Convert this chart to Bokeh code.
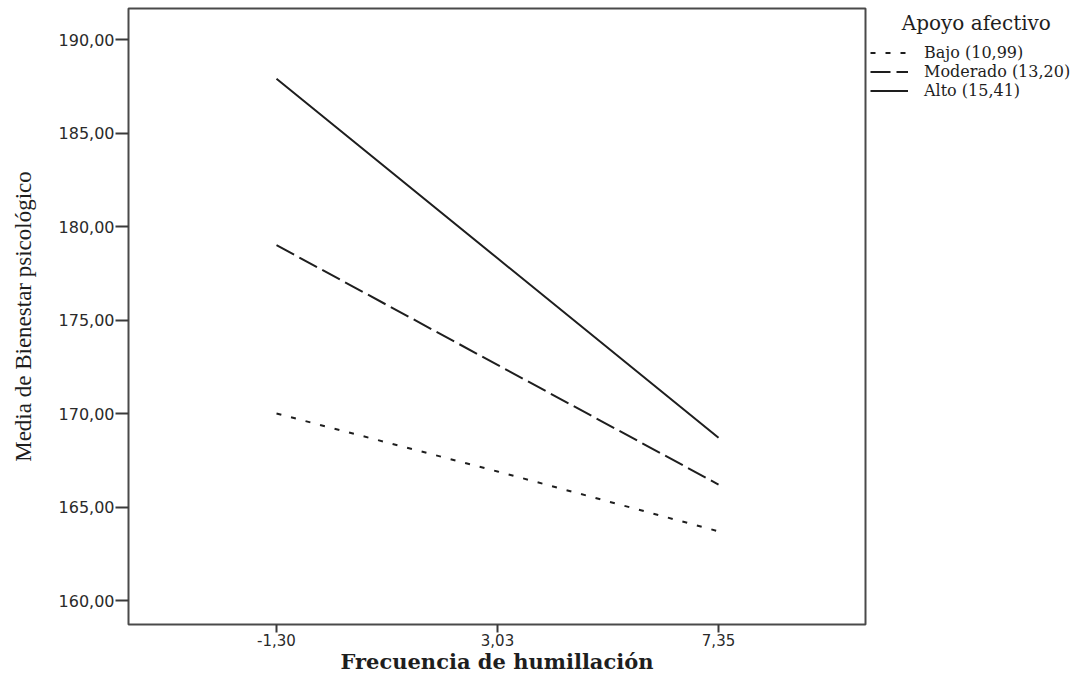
from bokeh.plotting import figure
from bokeh.models import FixedTicker, Legend, LegendItem
from bokeh.layouts import row
from bokeh.embed import file_html
from bokeh.resources import INLINE

# ---- data ----
x_labels = ["-1,30", "3,03", "7,35"]
x_pos = [0, 1, 2]
bajo = [170.0, 166.9, 163.7]
moderado = [179.0, 172.6, 166.2]
alto = [187.9, 178.3, 168.7]
series_names = ["Bajo (10,99)", "Moderado (13,20)", "Alto (15,41)"]
legend_title = "Apoyo afectivo"
y_ticks = [160, 165, 170, 175, 180, 185, 190]
y_tick_labels = ["160,00", "165,00", "170,00", "175,00", "180,00", "185,00", "190,00"]
x_title = "Frecuencia de humillación"
y_title = "Media de Bienestar psicológico"

INK = "#1e1e1e"
STYLES = [dict(line_dash="5 10"), dict(line_dash="20 6"), dict(line_dash="solid")]
SERIES = [bajo, moderado, alto]

# ---------------- main plot ----------------
p = figure(width=867, height=676, output_backend="svg", toolbar_location=None,
           x_range=(-0.6697, 2.665), y_range=(158.717, 191.658),
           min_border_left=128, min_border_right=2, min_border_top=8,
           min_border_bottom=52)
p.grid.visible = False
p.outline_line_color = "#4a4a4a"
p.outline_line_width = 2
p.background_fill_color = "white"
p.border_fill_color = "white"

p.xaxis.ticker = FixedTicker(ticks=x_pos)
p.xaxis.major_label_overrides = {x: l for x, l in zip(x_pos, x_labels)}
p.yaxis.ticker = FixedTicker(ticks=y_ticks)
p.yaxis.major_label_overrides = {t: l for t, l in zip(y_ticks, y_tick_labels)}
for ax in (p.xaxis[0], p.yaxis[0]):
    ax.axis_line_color = None
    ax.major_tick_line_color = "#3a3a3a"
    ax.major_tick_line_width = 2
    ax.major_tick_in = 0
    ax.minor_tick_line_color = None
    ax.major_label_text_font = "DejaVu Sans"
    ax.major_label_text_color = "#2a2a2a"
    ax.axis_label_text_color = INK
p.xaxis.major_label_text_font_size = "15px"
p.yaxis.major_label_text_font_size = "16px"
p.xaxis.major_tick_out = 8
p.xaxis.major_label_standoff = 1
p.yaxis.major_tick_out = 13
p.yaxis.major_label_standoff = 1

p.xaxis.axis_label = x_title
p.xaxis.axis_label_text_font = "DejaVu Serif"
p.xaxis.axis_label_text_font_style = "bold"
p.xaxis.axis_label_text_font_size = "21px"
p.xaxis.axis_label_standoff = 0

p.yaxis.axis_label = y_title
p.yaxis.axis_label_text_font = "Liberation Serif"
p.yaxis.axis_label_text_font_style = "normal"
p.yaxis.axis_label_text_font_size = "23px"
p.yaxis.axis_label_standoff = 20

for ys, st in zip(SERIES, STYLES):
    p.line(x_pos, ys, line_color=INK, line_width=2, **st)

# ---------------- legend panel ----------------
pl = figure(width=206, height=676, output_backend="svg", toolbar_location=None,
            x_range=(0, 1), y_range=(0, 1), x_axis_type=None, y_axis_type=None,
            min_border_left=0, min_border_right=0, min_border_top=8,
            min_border_bottom=0)
pl.grid.visible = False
pl.outline_line_color = None
pl.background_fill_color = "white"
pl.border_fill_color = "white"

# legend sample renderers (their data lies outside this panel's view)
leg_renderers = [pl.line(x_pos, ys, line_color=INK, line_width=2, **st)
                 for ys, st in zip(SERIES, STYLES)]

legend = Legend(items=[LegendItem(label=n, renderers=[r])
                       for n, r in zip(series_names, leg_renderers)],
                title="\u00a0" * 5 + legend_title,
                title_text_font="DejaVu Serif", title_text_font_size="20px",
                title_text_font_style="normal", title_text_color=INK,
                title_standoff=8,
                location="top_left", padding=3, margin=0, spacing=-1,
                glyph_width=38, glyph_height=17, label_height=17,
                label_standoff=16, label_text_font="DejaVu Serif",
                label_text_font_size="16px", label_text_color=INK,
                border_line_alpha=0, background_fill_alpha=0)
pl.add_layout(legend)

layout = row(p, pl, spacing=0)
open("out.html", "w").write(file_html(layout, INLINE))
